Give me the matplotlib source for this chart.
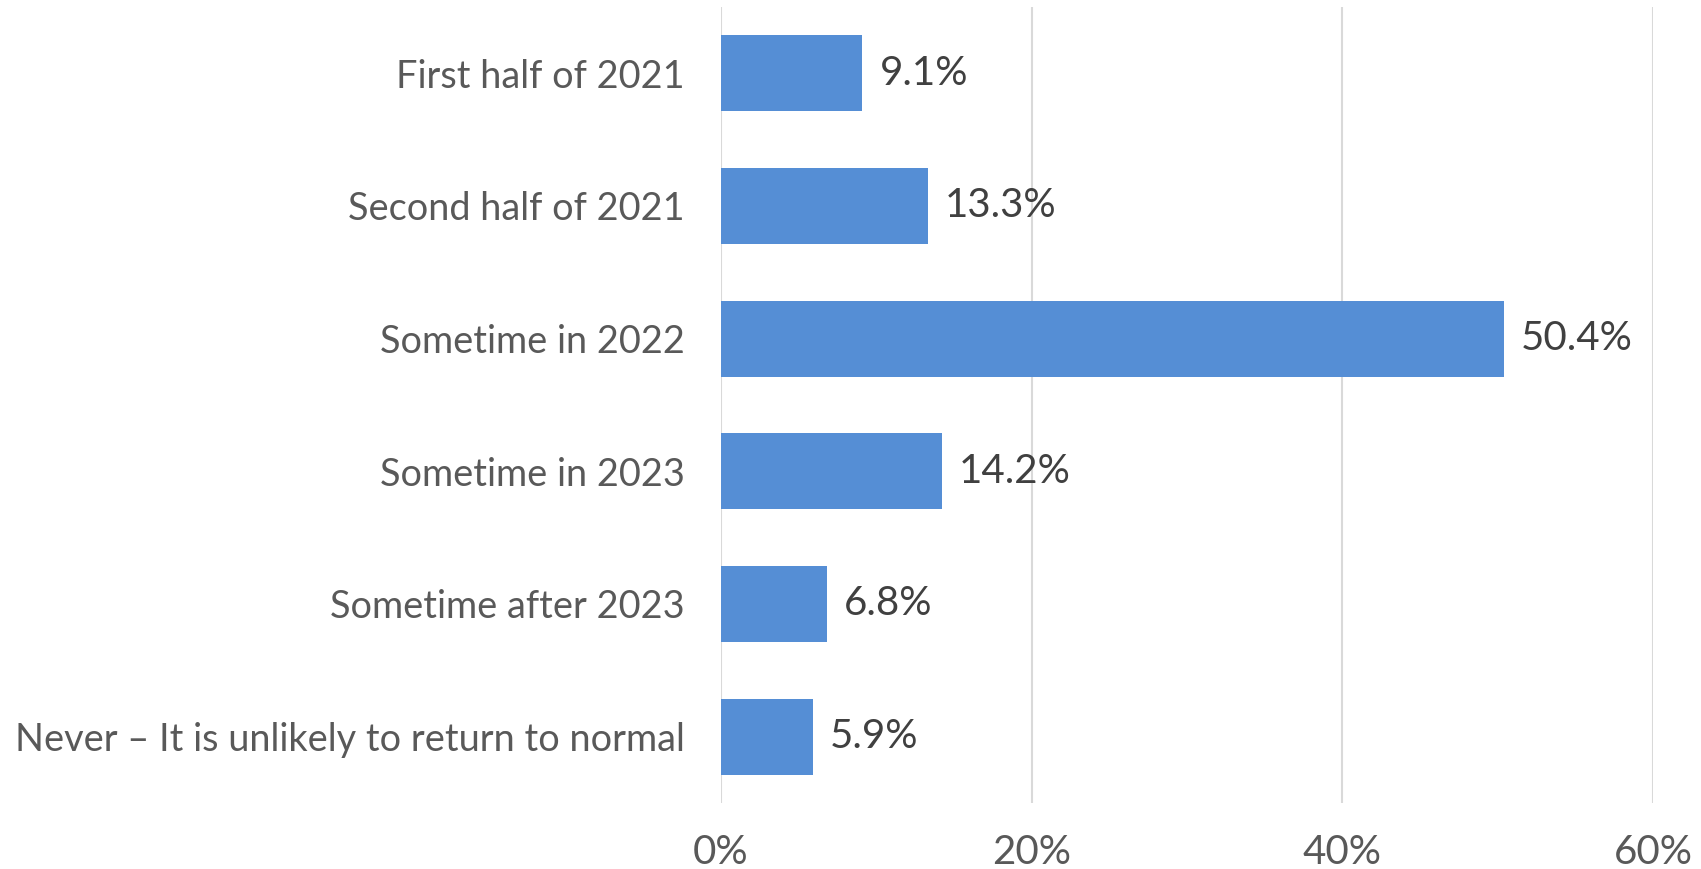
import matplotlib
matplotlib.use("Agg")
import matplotlib.pyplot as plt
from matplotlib.ticker import FuncFormatter

categories = [
    "First half of 2021",
    "Second half of 2021",
    "Sometime in 2022",
    "Sometime in 2023",
    "Sometime after 2023",
    "Never \u2013 It is unlikely to return to normal",
]
values = [9.1, 13.3, 50.4, 14.2, 6.8, 5.9]
x_ticks = [0, 20, 40, 60]

plt.rcParams["font.family"] = ["Lato", "DejaVu Sans"]

fig = plt.figure(figsize=(17.01, 8.69), dpi=100)
ax = fig.add_axes([0.4239, 0.0760, 0.9718 - 0.4239, 0.99195 - 0.0760])

y = list(range(len(categories)))
ax.barh(y, values, height=0.572, color="#558ED5", zorder=3)

for yi, v in zip(y, values):
    ax.text(v + 1.1, yi, f"{v:.1f}%", va="center", ha="left",
            fontsize=29, color="#404040")

ax.set_xlim(0, 60)
ax.set_ylim(len(categories) - 0.5, -0.5)
ax.set_xticks(x_ticks)
ax.xaxis.set_major_formatter(FuncFormatter(lambda v, p: f"{v:.0f}%"))
ax.set_yticks(y)
ax.set_yticklabels(categories)

ax.grid(axis="x", color="#D9D9D9", linewidth=1.5, zorder=0)
for s in ax.spines.values():
    s.set_visible(False)
ax.tick_params(axis="x", length=0, pad=22, labelsize=29, labelcolor="#595959")
ax.tick_params(axis="y", length=0, pad=26, labelsize=27.3, labelcolor="#595959")

fig.savefig("out.png", dpi=100)
